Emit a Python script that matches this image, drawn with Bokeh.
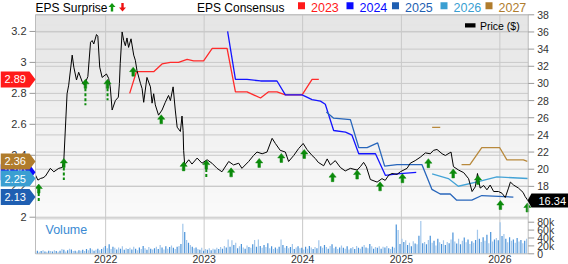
import numpy as np
import pandas as pd
from bokeh.plotting import figure
from bokeh.models import Range1d
from bokeh.core.properties import value
from bokeh.embed import file_html
from bokeh.resources import INLINE

FONT = "Liberation Sans"

# ------------------------------------------------------------------ data
price_dates = ["2021-04-16","2021-04-25","2021-05-05","2021-05-14","2021-05-23","2021-06-10","2021-06-23",
    "2021-07-11","2021-07-24","2021-07-30","2021-08-11","2021-08-17","2021-08-30","2021-09-05","2021-09-15",
    "2021-09-23","2021-10-06","2021-10-14","2021-10-27","2021-11-06","2021-11-12","2021-11-18","2021-11-28",
    "2021-12-03","2021-12-10","2021-12-19","2022-01-04","2022-01-12","2022-01-18","2022-01-25","2022-02-06",
    "2022-02-17","2022-02-21","2022-02-24","2022-03-03","2022-03-09","2022-03-15","2022-03-21","2022-03-27",
    "2022-04-05","2022-04-15","2022-04-21","2022-04-27","2022-05-10","2022-05-16","2022-05-22","2022-06-03",
    "2022-06-16","2022-06-22","2022-06-28","2022-07-04","2022-07-16","2022-07-29","2022-08-10","2022-08-22",
    "2022-08-29","2022-09-08","2022-09-16","2022-09-23","2022-10-05","2022-10-11","2022-10-15","2022-10-17",
    "2022-10-21","2022-11-05","2022-11-17","2022-12-06","2022-12-24","2023-01-12","2023-01-30","2023-02-18",
    "2023-03-08","2023-04-02","2023-04-20","2023-05-09","2023-05-21","2023-06-15","2023-07-03","2023-07-16",
    "2023-08-04","2023-08-22","2023-09-10","2023-09-22","2023-10-10","2023-10-29","2023-11-10","2023-11-29",
    "2023-12-17","2024-01-03","2024-01-17","2024-02-05","2024-02-17","2024-02-28","2024-03-19","2024-04-01",
    "2024-04-13","2024-05-01","2024-05-20","2024-06-07","2024-06-26","2024-07-21","2024-08-02","2024-08-14",
    "2024-08-24","2024-09-08","2024-10-03","2024-10-21","2024-11-02","2024-11-15","2024-11-27","2024-12-16",
    "2024-12-28","2025-01-22","2025-02-03","2025-02-21","2025-03-12","2025-03-31","2025-04-18","2025-04-30",
    "2025-05-13","2025-06-01","2025-06-13","2025-07-04","2025-07-13","2025-08-01","2025-08-20","2025-09-07",
    "2025-09-20","2025-10-02","2025-10-10","2025-10-20","2025-11-02","2025-11-14","2025-11-26","2025-12-09",
    "2025-12-27","2026-01-09","2026-01-21","2026-02-02","2026-02-09","2026-02-21","2026-03-11","2026-03-28",
    "2026-04-05","2026-04-15"]
price_values = [19.31,18.73,18.93,19.0,19.2,20.1,19.7,
    20.1,20.2,21.06,28.8,29.8,33.3,31.9,30.4,
    31.3,30.2,29.8,30.8,34.8,35.0,34.6,35.7,
    35.5,31.9,30.7,31.1,30.6,29.6,26.9,28.0,
    28.4,30.0,32.3,36.0,35.0,34.4,35.3,34.2,
    35.2,33.3,32.7,31.5,30.0,29.4,27.8,30.7,
    29.6,27.7,28.8,27.5,26.3,26.9,27.8,28.6,
    28.0,29.6,26.9,24.9,24.4,26.2,24.5,22.2,
    20.5,21.1,20.6,21.3,20.7,21.1,20.7,20.1,
    19.7,20.9,20.5,20.7,20.1,20.9,21.6,22.0,
    21.8,22.0,23.6,23.0,22.2,22.0,20.9,21.6,
    22.4,23.0,22.3,21.6,21.25,20.8,20.4,21.2,
    20.5,21.0,20.2,19.8,20.1,19.9,20.3,20.8,
    20.3,18.8,18.5,18.9,18.7,19.3,19.5,19.4,
    19.7,20.1,20.7,21.0,21.4,21.9,21.8,22.2,
    22.3,21.8,21.6,22.0,20.3,19.9,19.6,18.9,
    17.4,17.95,19.5,17.8,18.1,17.6,18.15,17.4,
    17.4,17.2,16.7,17.8,18.5,18.15,17.8,17.3,
    16.8,16.34]

eps2023_dates = ["2022-03-31","2022-04-25","2022-06-28","2022-07-29","2022-08-29","2022-09-28","2022-10-30",
    "2022-11-23","2022-12-30","2023-01-31","2023-03-27","2023-04-27","2023-06-09","2023-07-29","2023-08-28",
    "2023-09-28","2023-10-29","2023-12-30","2024-02-05","2024-03-01"]
eps2023_values = [2.80,2.94,2.94,2.99,3.00,3.00,3.02,3.01,3.01,3.09,3.09,2.81,2.81,2.77,2.81,2.81,2.79,2.79,2.89,2.89]

eps2024_dates = ["2023-03-29","2023-04-27","2023-06-09","2023-07-29","2023-09-28","2023-10-29","2023-12-30",
    "2024-02-05","2024-03-07","2024-03-25","2024-04-25","2024-06-08","2024-07-02","2024-07-27","2024-08-27",
    "2024-09-27","2024-11-03","2024-12-16","2025-02-25"]
eps2024_values = [3.20,2.89,2.89,2.88,2.88,2.79,2.79,2.76,2.75,2.73,2.56,2.55,2.53,2.41,2.41,2.41,2.27,2.28,2.29]

eps2025_dates = ["2024-03-29","2024-04-25","2024-06-26","2024-07-27","2024-08-27","2024-10-05","2024-10-31",
    "2024-12-16","2025-03-18","2025-04-24","2025-05-25","2025-07-01","2025-07-25","2025-09-19","2025-10-26",
    "2026-02-20"]
eps2025_values = [2.68,2.64,2.63,2.45,2.45,2.48,2.33,2.34,2.34,2.18,2.15,2.15,2.11,2.11,2.14,2.13]

eps2026_dates = ["2025-04-25","2025-06-24","2025-07-31","2025-10-13","2025-12-21","2026-04-14"]
eps2026_values = [2.28,2.25,2.20,2.23,2.26,2.25]

eps2027_dates = ["2025-04-25","2025-05-25","2025-07-01","2025-08-12","2025-09-12","2025-10-26","2025-12-31",
    "2026-01-27","2026-03-29","2026-04-13"]
eps2027_values = [2.58,2.58,np.nan,2.34,2.34,2.45,2.45,2.37,2.37,2.36]

surprise_dates = ["2021-04-28","2021-07-30","2021-10-18","2022-01-08","2022-04-13","2022-07-26","2022-10-17",
    "2023-01-09","2023-04-11","2023-07-24","2023-10-14","2024-01-07","2024-04-21","2024-07-21","2024-10-14",
    "2025-01-05","2025-04-11","2025-07-12","2025-10-12","2026-01-03","2026-04-13"]
surprise_tip_price = [18.27,21.26,30.48,30.48,31.9,26.35,20.86,21.06,20.16,21.26,21.84,22.3,19.6,19.9,18.53,
    19.47,21.23,20.03,19.28,16.35,16.06]
surprise_dash_low = [16.21,18.73,27.45,28.03,None,None,19.9,19.1,None,None,None,None,None,None,None,
    None,None,None,None,None,None]

volume_first_week = "2021-04-16"
volume_k = [6,8,5,7,9,6,5,8,7,6,9,
    7,5,8,12,10,6,9,13,11,7,8,6,9,
    8,10,7,12,9,14,11,8,10,13,9,12,16,
    20,14,24,12,18,15,11,16,13,19,10,14,12,
    15,11,18,13,9,16,12,20,14,10,17,13,11,
    14,18,12,22,16,11,19,13,17,21,15,12,18,
    20,25,76,55,35,28,22,18,14,16,12,10,15,
    8,12,10,14,9,13,11,15,12,17,13,20,16,
    36,18,34,22,28,14,19,25,16,13,21,17,15,
    24,35,18,36,20,15,22,17,27,14,19,12,16,
    13,18,36,22,15,20,14,17,25,12,16,19,14,
    15,11,18,13,20,16,12,17,14,34,19,15,22,
    17,13,20,24,14,18,12,16,21,15,13,19,11,
    14,17,12,20,15,13,18,22,16,14,25,19,13,
    17,15,19,13,18,16,20,14,12,18,15,74,60,
    25,38,30,34,22,28,19,32,26,24,46,83,27,
    30,24,35,46,28,33,21,38,29,25,34,22,30,
    27,36,54,31,26,38,24,33,41,29,36,25,32,
    28,35,61,38,30,42,33,48,27,55,31,36,40,
    34,80,45,50,38,29,42,33,36,28,40,31,35,
    27,33,38]

year_ticks = ["2022-01-01","2023-01-01","2024-01-01","2025-01-01","2026-01-01"]
year_labels = ["2022","2023","2024","2025","2026"]
price_ticks = [18,20,22,24,26,28,30,32,34,36,38]
eps_ticks = [2.0,2.2,2.4,2.6,2.8,3.0,3.2]
eps_tick_labels = ["2","2.2","2.4","2.6","2.8","3","3.2"]
volume_ticks_k = [0,20,40,60,80]
volume_tick_labels = ["0","20k","40k","60k","80k"]

series_names = ["2023","2024","2025","2026","2027"]
series_colors = ["#ff2b2b","#1414ff","#2866bb","#44a3d6","#b8893c"]
legend_colors = ["#ff1a1a","#0a0aff","#1f5fb2","#3a9fd2","#b07c2c"]

# ------------------------------------------------------------------ layout constants (pixels)
W, H = 568, 264
PL, PR, PT, PB = 35.0, 527.7, 14.3, 253.3
X_START, X_END = "2021-04-16", "2026-04-16"
P_LO, P_HI = 10.14, 38.0
E_LO, E_HI = 1.7636, 3.3075
V_TOP = 605.0
UPPER_BOTTOM, SEP_BOTTOM = 14.37, 14.14
GREEN = "#0b8a0b"
GRID = "#c9c9c9"
TXT = "#333333"


def to_ms_arr(ds):
    return np.asarray((pd.to_datetime(ds) - pd.Timestamp("1970-01-01")) / pd.Timedelta(milliseconds=1),
                      dtype=float)


x0, x1 = to_ms_arr([X_START, X_END])
PX_MS = (PR - PL) / (x1 - x0)
PX_P = (PB - PT) / (P_HI - P_LO)
PX_E = (PB - PT) / (E_HI - E_LO)
PX_V = (PB - PT) / V_TOP


def ext(lo, hi, px):
    # data range covering the whole canvas, given the plot-area data range
    return Range1d(lo - (H - PB) / px, hi + PT / px)


p = figure(width=W, height=H, x_axis_location=None, y_axis_location=None,
           x_range=Range1d(x0 - PL / PX_MS, x1 + (W - PR) / PX_MS),
           y_range=ext(P_LO, P_HI, PX_P),
           toolbar_location=None, output_backend="svg", min_border=0,
           background_fill_color="white", border_fill_color="white", outline_line_color=None)
p.grid.visible = False
p.extra_y_ranges = {"eps": ext(E_LO, E_HI, PX_E), "vol": ext(0, V_TOP, PX_V), "py": Range1d(H, 0)}
p.extra_x_ranges = {"px": Range1d(0, W)}

# ------------------------------------------------------------------ background
edges = np.linspace(UPPER_BOTTOM, P_HI, 41)
shade = np.linspace(250, 229, 40).round().astype(int)
cols = ["#%02x%02x%02x" % (s, s, s) for s in shade]
p.quad(left=x0, right=x1, bottom=edges[:-1], top=edges[1:], fill_color=cols, line_color=cols)
p.quad(left=x0, right=x1, bottom=SEP_BOTTOM, top=UPPER_BOTTOM, fill_color="#dcdcdc", line_color=None)

# grid lines
year_ms = to_ms_arr(year_ticks)
p.segment(x0=year_ms, y0=P_LO, x1=year_ms, y1=P_HI, line_color=GRID, line_width=1)
p.segment(x0=x0, y0=price_ticks, x1=x1, y1=price_ticks, line_color=GRID, line_width=1)
p.segment(x0=x0, y0=eps_ticks, x1=x1, y1=eps_ticks, line_color=GRID, line_width=1, y_range_name="eps")

# ------------------------------------------------------------------ volume
vol_x = pd.date_range(volume_first_week, periods=len(volume_k), freq="7D")
vol_cols = ["#4b93d9" if i % 2 else "#a3c7eb" for i in range(len(volume_k))]
p.vbar(x=vol_x, top=volume_k, width=4.5 * 86400000, y_range_name="vol",
       fill_color=vol_cols, line_color=None)

# EPS consensus lines
all_eps = [(eps2023_dates, eps2023_values), (eps2024_dates, eps2024_values),
           (eps2025_dates, eps2025_values), (eps2026_dates, eps2026_values),
           (eps2027_dates, eps2027_values)]
for (d, v), c in zip(all_eps, series_colors):
    p.line(pd.to_datetime(d), v, y_range_name="eps", line_color=c, line_width=1.3)

# price
p.line(pd.to_datetime(price_dates), price_values, line_color="black", line_width=1)

# surprise arrows
HW, SW, HH, SH = 3.6, 1.3, 4.5, 4.5
sx = to_ms_arr(surprise_dates)
axs, ays = [], []
for cx, tip in zip(sx, surprise_tip_price):
    dx = lambda px: px / PX_MS
    yy = lambda px: tip - px / PX_P
    axs.append([cx, cx + dx(HW), cx + dx(SW), cx + dx(SW), cx - dx(SW), cx - dx(SW), cx - dx(HW)])
    ays.append([tip, yy(HH), yy(HH), yy(HH + SH), yy(HH + SH), yy(HH), yy(HH)])
keep = [i for i, lo in enumerate(surprise_dash_low) if lo is not None]
dash_x = [sx[i] for i in keep]
dash_y0 = [surprise_tip_price[i] - (HH + SH) / PX_P for i in keep]
dash_y1 = [surprise_dash_low[i] for i in keep]
p.segment(x0=dash_x, y0=dash_y0, x1=dash_x, y1=dash_y1, line_color=GREEN, line_width=2, line_dash="3 2")
p.patches(axs, ays, fill_color=GREEN, line_color=GREEN, line_width=0.5)

# plot-area outline
p.quad(left=x0, right=x1, bottom=P_LO, top=P_HI, fill_color=None, line_color="#bdbdbd", line_width=1)

# ------------------------------------------------------------------ axes
def txt(x, y, t, color=TXT, size="11px", align="left", baseline="middle", xr="default", yr="default"):
    p.text(x=x, y=y, text=t, x_range_name=xr, y_range_name=yr, text_font=value(FONT),
           text_font_size=value(size), text_color=color, text_align=align, text_baseline=baseline)


# left EPS axis
p.segment(x0=PL - 6, y0=eps_ticks, x1=PL, y1=eps_ticks, line_color="#999999",
          x_range_name="px", y_range_name="eps")
txt([PL - 9] * len(eps_ticks), eps_ticks, eps_tick_labels, align="right", size="11px",
    xr="px", yr="eps")
# right price axis
p.segment(x0=PR, y0=price_ticks, x1=PR + 6, y1=price_ticks, line_color="#999999", x_range_name="px")
txt([PR + 9] * len(price_ticks), price_ticks, [str(t) for t in price_ticks], size="10.5px", xr="px")
# right volume axis
p.segment(x0=PR, y0=volume_ticks_k, x1=PR + 6, y1=volume_ticks_k, line_color="#999999",
          x_range_name="px", y_range_name="vol")
txt([PR + 9] * len(volume_ticks_k), volume_ticks_k, volume_tick_labels, size="10.5px",
    xr="px", yr="vol")
# bottom year axis
txt(year_ms, [PB + 1.5] * len(year_ms), year_labels, size="10.5px", align="center",
    baseline="top", yr="py")

# ------------------------------------------------------------------ badges
order = [1, 0, 4, 3, 2]
for i in order:
    val = all_eps[i][1][-1]
    hh = 8 / PX_E
    p.patch([0, 29, 35, 29, 0], [val + hh, val + hh, val, val - hh, val - hh], fill_color=legend_colors[i],
            line_color=None, x_range_name="px", y_range_name="eps")
    txt([4], [val], ["%.2f" % val], color="white", size="11px", xr="px", yr="eps")

last_price = price_values[-1]
hp = 7 / PX_P
p.patch([527, 531, 568, 568, 531],
        [last_price, last_price + hp, last_price + hp, last_price - hp, last_price - hp],
        fill_color="black", line_color=None, x_range_name="px")
txt([538], [last_price], ["%.2f" % last_price], color="white", size="11px", xr="px")

# ------------------------------------------------------------------ legends
def pxpatch(xs, ys, color):
    p.patch(xs, ys, fill_color=color, line_color=None, x_range_name="px", y_range_name="py")


txt([35], [7], ["EPS Surprise"], color="black", size="12px", xr="px", yr="py")
cx, top, h, w = 111.5, 2.5, 8.5, 7.0
pxpatch([cx, cx + w / 2, cx + 1.2, cx + 1.2, cx - 1.2, cx - 1.2, cx - w / 2],
        [top, top + 4, top + 4, top + h, top + h, top + 4, top + 4], "#119911")
cx = 122
pxpatch([cx, cx + w / 2, cx + 1.2, cx + 1.2, cx - 1.2, cx - 1.2, cx - w / 2],
        [top + h, top + h - 4, top + h - 4, top, top, top + h - 4, top + h - 4], "#ee1111")

txt([196.5], [7], ["EPS Consensus"], color="black", size="12px", xr="px", yr="py")
sq_x = [297.5, 346.0, 391.5, 440.0, 485.0]
for xq, name, c in zip(sq_x, series_names, legend_colors):
    pxpatch([xq, xq + 7, xq + 7, xq], [1.8, 1.8, 8.8, 8.8], c)
    txt([xq + 13], [6.5], [name], color=c, size="12.5px", xr="px", yr="py")

pxpatch([464.5, 475, 475, 464.5], [22.7, 22.7, 27, 27], "black")
txt([479.5], [25.5], ["Price ($)"], color="black", size="10.5px", xr="px", yr="py")
txt([45], [229.5], ["Volume"], color="#3a8ad3", size="12.5px", xr="px", yr="py")

open("out.html", "w").write(file_html(p, INLINE))
